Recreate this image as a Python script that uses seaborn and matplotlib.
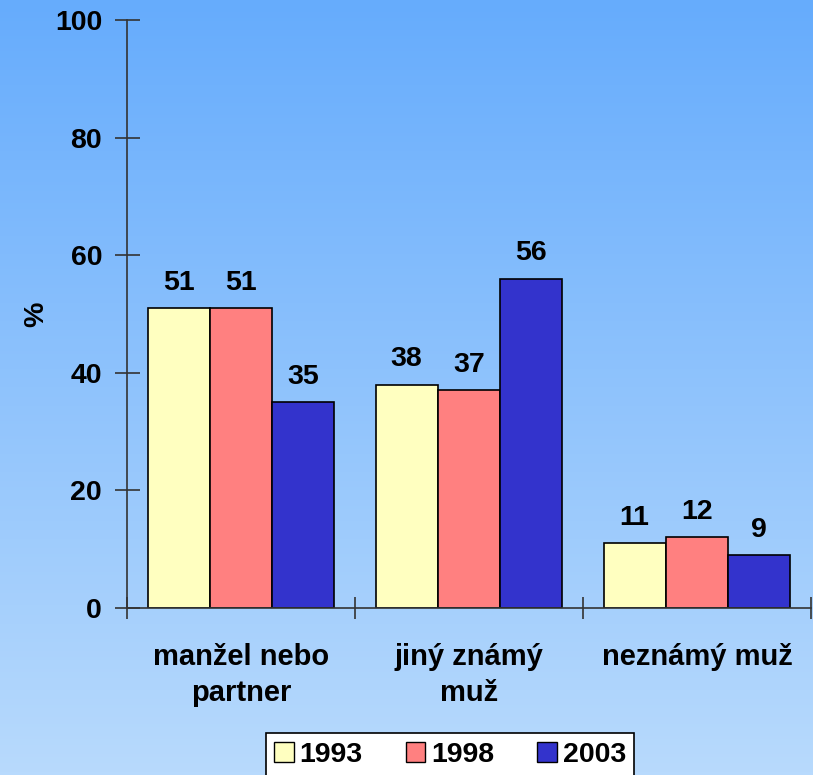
import numpy as np
import pandas as pd
import matplotlib.pyplot as plt
import seaborn as sns

categories = ["manžel nebo\npartner", "jiný známý\nmuž", "neznámý muž"]
years = ["1993", "1998", "2003"]
values_1993 = [51, 38, 11]
values_1998 = [51, 37, 12]
values_2003 = [35, 56, 9]
yticks = [0, 20, 40, 60, 80, 100]
colors = ["#FFFFC0", "#FF8080", "#3333CC"]

df = pd.DataFrame({
    "kategorie": categories * 3,
    "rok": [y for y in years for _ in categories],
    "hodnota": values_1993 + values_1998 + values_2003,
})

sns.set_style("white")
plt.rcParams["font.family"] = ["Liberation Sans", "DejaVu Sans"]
plt.rcParams["font.weight"] = "bold"
plt.rcParams["text.color"] = "black"
plt.rcParams["axes.labelcolor"] = "black"
plt.rcParams["xtick.color"] = "black"
plt.rcParams["ytick.color"] = "black"

fig = plt.figure(figsize=(8.13, 7.75), dpi=100)

# gradient background
bg = fig.add_axes([0, 0, 1, 1], zorder=0)
grad = np.linspace(0, 1, 256).reshape(-1, 1)
top = np.array([0x66, 0xAC, 0xFC]) / 255
bottom = np.array([0xB8, 0xDA, 0xFD]) / 255
img = top + grad[..., None] * (bottom - top)
bg.imshow(img, aspect="auto", extent=[0, 1, 0, 1])
bg.axis("off")

ax = fig.add_axes([127 / 813, 1 - 608 / 775, 684 / 813, 588 / 775], zorder=1)
ax.patch.set_alpha(0)

sns.barplot(data=df, x="kategorie", y="hodnota", hue="rok", palette=colors,
            saturation=1, width=0.82, edgecolor="black", linewidth=1.2, ax=ax, legend=False)

for cont in ax.containers:
    ax.bar_label(cont, padding=9, fontsize=20.5, fontweight="bold", color="black")

ax.set_xlim(-0.5, 2.5)
ax.set_ylim(0, 100)
ax.set_yticks(yticks)
ax.set_yticklabels([str(t) for t in yticks], fontsize=20.5, fontweight="bold")
ax.tick_params(axis="y", left=True, direction="inout", length=18, width=1.2,
               color="#333333", labelcolor="black", pad=9)
ax.set_xticks([0, 1, 2])
ax.set_xticklabels(categories, fontsize=21, fontweight="bold", linespacing=1.35)
ax.tick_params(axis="x", which="major", bottom=False, pad=22, labelcolor="black")
ax.set_xticks([-0.5, 0.5, 1.5, 2.5], minor=True)
ax.tick_params(axis="x", which="minor", bottom=True, direction="inout", length=16,
               width=1.2, color="#333333")
ax.set_xlabel("")
ax.set_ylabel("%", fontsize=20.5, fontweight="bold", labelpad=4, color="black")

for s in ["top", "right"]:
    ax.spines[s].set_visible(False)
for s in ["left", "bottom"]:
    ax.spines[s].set_color("#333333")
    ax.spines[s].set_linewidth(1.2)

handles = [plt.Rectangle((0, 0), 1, 1, facecolor=c, edgecolor="black") for c in colors]
leg = fig.legend(handles, years, loc="upper center", bbox_to_anchor=(450 / 813, 1 - 733 / 775),
                 ncol=3, frameon=True, fancybox=False, edgecolor="black", borderaxespad=0,
                 prop={"size": 20.5, "weight": "bold"}, handlelength=0.7, handleheight=0.7,
                 handletextpad=0.2, columnspacing=1.5, borderpad=0.3)
leg.get_frame().set_linewidth(1.2)
leg.get_frame().set_alpha(1)

fig.savefig("out.png", dpi=100)
